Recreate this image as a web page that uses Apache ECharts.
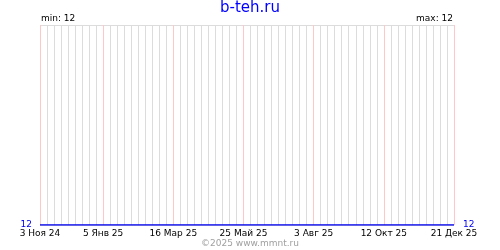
<!DOCTYPE html>
<html>
<head>
<meta charset="utf-8">
<script src="https://cdn.jsdelivr.net/npm/echarts@6/dist/echarts.min.js"></script>
<style>html,body{margin:0;padding:0;background:#fff;}#c{width:500px;height:250px;}</style>
</head>
<body>
<div id="c"></div>
<script>
var titleText = 'b-teh.ru';
var footerText = '©2025 www.mmnt.ru';
var weeks = [
 '2024-11-03','2024-11-10','2024-11-17','2024-11-24',
 '2024-12-01','2024-12-08','2024-12-15','2024-12-22','2024-12-29',
 '2025-01-05','2025-01-12','2025-01-19','2025-01-26',
 '2025-02-02','2025-02-09','2025-02-16','2025-02-23',
 '2025-03-02','2025-03-09','2025-03-16','2025-03-23','2025-03-30',
 '2025-04-06','2025-04-13','2025-04-20','2025-04-27',
 '2025-05-04','2025-05-11','2025-05-18','2025-05-25',
 '2025-06-01','2025-06-08','2025-06-15','2025-06-22','2025-06-29',
 '2025-07-06','2025-07-13','2025-07-20','2025-07-27',
 '2025-08-03','2025-08-10','2025-08-17','2025-08-24','2025-08-31',
 '2025-09-07','2025-09-14','2025-09-21','2025-09-28',
 '2025-10-05','2025-10-12','2025-10-19','2025-10-26',
 '2025-11-02','2025-11-09','2025-11-16','2025-11-23','2025-11-30',
 '2025-12-07','2025-12-14','2025-12-21'
];
var values = [
 12,12,12,12, 12,12,12,12,12, 12,12,12,12, 12,12,12,12,
 12,12,12,12,12, 12,12,12,12, 12,12,12,12, 12,12,12,12,12,
 12,12,12,12, 12,12,12,12,12, 12,12,12,12, 12,12,12,12,
 12,12,12,12,12, 12,12,12
];
var tickDates = ['2024-11-03','2025-01-05','2025-03-16','2025-05-25','2025-08-03','2025-10-12','2025-12-21'];
var tickLabels = ['3 Ноя 24','5 Янв 25','16 Мар 25','25 Май 25','3 Авг 25','12 Окт 25','21 Дек 25'];

var vMin = Math.min.apply(null, values);
var vMax = Math.max.apply(null, values);
var FONT = 'DejaVu Sans';
var BLUE = '#0000ee';

function isTick(v){ return tickDates.indexOf(v) >= 0; }

var chart = echarts.init(document.getElementById('c'), null, {renderer:'canvas'});
chart.setOption({
  animation: false,
  backgroundColor: '#ffffff',
  grid: {left: 40, right: 46, top: 25, bottom: 25},
  xAxis: [{
    type: 'category', data: weeks, boundaryGap: false,
    axisLine: {show: false}, axisTick: {show: false},
    splitLine: {show: true, interval: 0, lineStyle: {color: '#dcdcdc', width: 1}},
    axisLabel: {
      interval: function(i, v){ return isTick(v); },
      formatter: function(v){ var k = tickDates.indexOf(v); return k >= 0 ? tickLabels[k] : ''; },
      fontFamily: FONT, fontSize: 9, color: '#000', margin: 4, showMinLabel: true, showMaxLabel: true,
      hideOverlap: false
    }
  },{
    type: 'category', data: weeks, boundaryGap: false, position: 'bottom',
    axisLine: {show: false}, axisTick: {show: false}, axisLabel: {show: false},
    splitLine: {show: true, interval: function(i, v){ return isTick(v); }, lineStyle: {color: '#ffc8c8', width: 1}}
  }],
  yAxis: [{
    type: 'value', min: vMin, max: vMin + 1, interval: 1,
    axisLine: {show: false}, axisTick: {show: false},
    splitLine: {show: true, lineStyle: {color: '#dcdcdc', width: 1}},
    axisLabel: {formatter: function(v){ return v === vMin ? String(vMin) : ''; }, color: BLUE, fontFamily: FONT, fontSize: 9, margin: 8}
  },{
    type: 'value', min: vMin, max: vMin + 1, interval: 1, position: 'right',
    axisLine: {show: false}, axisTick: {show: false}, splitLine: {show: false},
    axisLabel: {formatter: function(v){ return v === vMax ? String(vMax) : ''; }, color: BLUE, fontFamily: FONT, fontSize: 9, margin: 9}
  }],
  series: [{
    type: 'line', data: values, xAxisIndex: 0, yAxisIndex: 0,
    symbol: 'none', lineStyle: {color: BLUE, width: 1.5}, z: 5
  }],
  graphic: [
    {type: 'text', left: 'center', top: 1, style: {text: titleText, fill: '#0000ff', font: '15px "' + FONT + '"'}},
    {type: 'text', left: 41, top: 14, style: {text: 'min: ' + vMin, fill: '#000', font: '9px "' + FONT + '"'}},
    {type: 'text', right: 47, top: 14, style: {text: 'max: ' + vMax, fill: '#000', font: '9px "' + FONT + '"'}},
    {type: 'text', left: 'center', top: 239, style: {text: footerText, fill: '#a0a0a0', font: '9px "' + FONT + '"'}}
  ]
});
</script>
</body>
</html>
